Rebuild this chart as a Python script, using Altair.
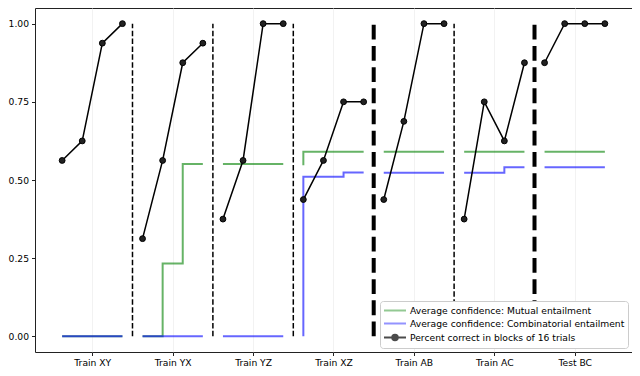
import altair as alt
import pandas as pd

phases = ["Train XY", "Train YX", "Train YZ", "Train XZ", "Train AB", "Train AC", "Test BC"]
block_offsets = [-0.375, -0.125, 0.125, 0.375]

# percent correct in blocks of 16 trials (counts out of 16)
correct_counts = [
    [9, 10, 15, 16],
    [5, 9, 14, 15],
    [6, 9, 16, 16],
    [7, 9, 12, 12],
    [7, 11, 16, 16],
    [6, 12, 10, 14],
    [14, 16, 16, 16],
]
mutual_conf = [
    [0.0, 0.0, 0.0, 0.0],
    [0.0, 0.0, 0.233, 0.551],
    [0.551, 0.551, 0.551, 0.551],
    [0.547, 0.59, 0.59, 0.59],
    [0.59, 0.59, 0.59, 0.59],
    [0.59, 0.59, 0.59, 0.59],
    [0.59, 0.59, 0.59, 0.59],
]
combin_conf = [
    [0.0, 0.0, 0.0, 0.0],
    [0.0, 0.0, 0.0, 0.0],
    [0.0, 0.0, 0.0, 0.0],
    [0.0, 0.51, 0.51, 0.524],
    [0.523, 0.523, 0.523, 0.523],
    [0.523, 0.523, 0.523, 0.541],
    [0.541, 0.541, 0.541, 0.541],
]
thin_boundaries = [0.5, 1.5, 2.5, 4.5]
thick_boundaries = [3.5, 5.5]
series_names = [
    "Average confidence: Mutual entailment",
    "Average confidence: Combinatorial entailment",
    "Percent correct in blocks of 16 trials",
]

rows = []
for p, name in enumerate(phases):
    for b, off in enumerate(block_offsets):
        rows.append({
            "phase": name,
            "x": p + off,
            "correct": correct_counts[p][b] / 16,
            "mutual": mutual_conf[p][b],
            "combin": combin_conf[p][b],
        })
df = pd.DataFrame(rows)

thin_df = pd.DataFrame({"x": thin_boundaries, "y0": 0.0, "y1": 1.0})
thick_df = pd.DataFrame({"x": thick_boundaries, "y0": 0.0, "y1": 1.0})
legend_df = pd.DataFrame({"series": series_names, "x": 0.0, "y": 0.0})

label_expr = "[" + ",".join("'%s'" % n for n in phases) + "][datum.value]"

xscale = alt.Scale(domain=[-0.7125, 6.7125], nice=False, zero=False)
yscale = alt.Scale(domain=[-0.05, 1.05], nice=False, zero=False)

xaxis = alt.Axis(values=list(range(len(phases))), labelExpr=label_expr, title=None,
                 grid=True, gridColor="#efefef", gridWidth=0.8, domain=False,
                 tickSize=3.5, tickColor="#222", labelPadding=3, labelAngle=0)
yaxis = alt.Axis(values=[0, 0.25, 0.5, 0.75, 1.0], format=".2f", title=None, grid=False,
                 domain=False, tickSize=3.5, tickColor="#222", labelPadding=3)

X = alt.X("x:Q", scale=xscale, axis=xaxis)
Y_corr = alt.Y("correct:Q", scale=yscale, axis=yaxis)

base = alt.Chart(df)

green = base.mark_line(interpolate="step-before", strokeWidth=2, color="#008000", opacity=0.6).encode(
    x=X, y=alt.Y("mutual:Q", scale=yscale, axis=yaxis), detail="phase:N")
blue = base.mark_line(interpolate="step-before", strokeWidth=2, color="#0000ff", opacity=0.6).encode(
    x=X, y=alt.Y("combin:Q", scale=yscale, axis=yaxis), detail="phase:N")

thin = alt.Chart(thin_df).mark_rule(color="black", strokeWidth=1.5, strokeDash=[5.5, 2.4]).encode(
    x=alt.X("x:Q", scale=xscale, axis=xaxis), y=alt.Y("y0:Q", scale=yscale, axis=yaxis), y2="y1:Q")
thick = alt.Chart(thick_df).mark_rule(color="black", strokeWidth=4, strokeDash=[14.8, 6.4]).encode(
    x=alt.X("x:Q", scale=xscale, axis=xaxis), y=alt.Y("y0:Q", scale=yscale, axis=yaxis), y2="y1:Q")

black_line = base.mark_line(color="black", strokeWidth=1.5).encode(x=X, y=Y_corr, detail="phase:N")
black_pts = base.mark_point(filled=True, color="#222", size=34, stroke="black", strokeWidth=1, opacity=1).encode(
    x=X, y=Y_corr)

line_path = "M-1,0H3"
marker_path = ("M-1,0H3"
               "M1.5,0A0.5,0.5,0,1,1,0.5,0A0.5,0.5,0,1,1,1.5,0"
               "M1.25,0A0.25,0.25,0,1,1,0.75,0A0.25,0.25,0,1,1,1.25,0")

legend_layer = alt.Chart(legend_df).transform_filter("false").mark_point(filled=False).encode(
    x=alt.X("x:Q", scale=xscale, axis=xaxis),
    y=alt.Y("y:Q", scale=yscale, axis=yaxis),
    color=alt.Color("series:N",
                    scale=alt.Scale(domain=series_names, range=["#66b366", "#6666ff", "black"]),
                    legend=alt.Legend(title=None, orient="bottom-right", offset=4,
                                      symbolSize=121, symbolStrokeWidth=2, labelOffset=14,
                                      labelFontSize=9.2, labelFont="DejaVu Sans", labelColor="black",
                                      fillColor="white", strokeColor="#cccccc", cornerRadius=3,
                                      padding=3, rowPadding=1, labelLimit=0)),
    shape=alt.Shape("series:N",
                    scale=alt.Scale(domain=series_names, range=[line_path, line_path, marker_path]),
                    legend=alt.Legend(title=None, orient="bottom-right")),
)

chart = alt.layer(green, blue, thin, thick, black_line, black_pts, legend_layer).properties(
    width=624, height=360,
    autosize=alt.AutoSizeParams(type="fit", contains="padding"),
    padding=0,
).configure_view(stroke="#222", strokeWidth=1).configure_axis(
    labelFont="DejaVu Sans", labelFontSize=9.2, labelColor="black"
)

chart.save("out.html", embed_options={"renderer": "svg", "actions": False})
